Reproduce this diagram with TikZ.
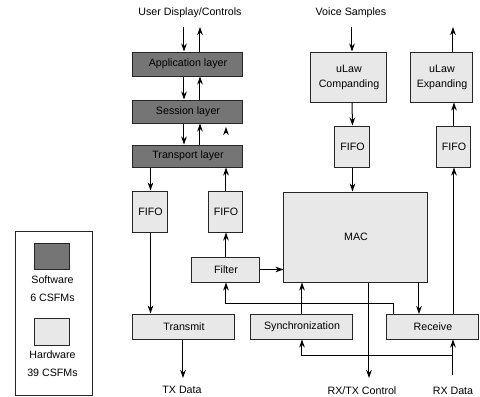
\documentclass[tikz,border=0pt]{standalone}
\usepackage{fontspec}
\setmainfont{Liberation Sans}
\usetikzlibrary{arrows.meta}

\tikzset{every picture/.style={line width=0.75pt}}
\tikzset{
  arr/.style={-{Stealth[length=6pt,width=4.2pt]}},
  swblock/.style={draw=black!85, fill=black!54, inner sep=0.75pt, font=\fontsize{8}{9.6}\selectfont},
  hwblock/.style={draw=black!85, fill=black!9, inner sep=0.75pt, align=center, font=\fontsize{8}{11.2}\selectfont},
  lbl/.style={inner sep=0.75pt, align=center, font=\fontsize{8}{13.5}\selectfont}
}

\begin{document}
\begin{tikzpicture}[x=0.75pt,y=0.75pt,yscale=-1,xscale=1]
\useasboundingbox (0,0) rectangle (480,397);

% Software layers
\node [swblock, minimum width=82.5pt, minimum height=18pt] (app) at (188,64) {Application layer};
\node [swblock, minimum width=82.5pt, minimum height=17.25pt] (sess) at (188,111.5) {Session layer};
\node [swblock, minimum width=82.5pt, minimum height=16.5pt] (trans) at (188,156) {Transport layer};

% Hardware blocks
\node [hwblock, minimum width=26.25pt, minimum height=30.75pt] (fifoa) at (150.5,211.5) {FIFO};
\node [hwblock, minimum width=25.5pt, minimum height=30.75pt] (fifob) at (226,211.5) {FIFO};
\node [hwblock, minimum width=51pt, minimum height=18.75pt] (filter) at (226,269.5) {Filter};
\node [hwblock, minimum width=108pt, minimum height=67.5pt] (mac) at (356,237) {MAC};
\node [hwblock, minimum width=76.5pt, minimum height=18.75pt] (transmit) at (184,326.5) {Transmit};
\node [hwblock, minimum width=76.5pt, minimum height=18.75pt] (sync) at (302,326.5) {Synchronization};
\node [hwblock, minimum width=69pt, minimum height=18.75pt] (receive) at (433,326.5) {Receive};
\node [hwblock, minimum width=57pt, minimum height=37.5pt] (comp) at (349,77) {uLaw\\Companding};
\node [hwblock, minimum width=46.5pt, minimum height=37.5pt] (expd) at (442,77) {uLaw\\Expanding};
\node [hwblock, minimum width=26.25pt, minimum height=30.75pt] (fifoc) at (352.5,146.5) {FIFO};
\node [hwblock, minimum width=25.5pt, minimum height=30.75pt] (fifod) at (454,146.5) {FIFO};

% Text Node
\node [lbl] (user) at (190,13) {User Display/Controls};
\node [lbl] (voice) at (351,13) {Voice Samples};
\node [lbl] (txd) at (182,390) {TX Data};
\node [lbl] (ctrl) at (362,391) {RX/TX Control};
\node [lbl] (rxd) at (453,391) {RX Data};

% free ends
\coordinate (uin) at (184,27);
\coordinate (uout) at (200,27);
\coordinate (vin) at (352,27);
\coordinate (vout) at (453,27);
\coordinate (txe) at (183,378);
\coordinate (ctle) at (369,378);
\coordinate (rxe) at (453,375);
\coordinate (fb) at (226,303);
\coordinate (rxb) at (453,355);

% Stack arrows
\draw [arr] (uin) -- (uin |- app.north);
\draw [arr] (uout |- app.north) -- (uout);
\draw [arr] (uin |- app.south) -- (uin |- sess.north);
\draw [arr] (uout |- sess.north) -- (uout |- app.south);
\draw [arr] (uin |- sess.south) -- (uin |- trans.north);
\draw [arr] (uout |- trans.north) -- (uout |- sess.south);
\draw [arr] (226,133) -- (226,127);
\draw [arr] (fifoa.north |- trans.south) -- (fifoa.north);
\draw [arr] (fifob.north) -- (fifob.north |- trans.south);

% Transmit path
\draw [arr] (fifoa.south) -- (fifoa.south |- transmit.north);
\draw [arr] (transmit.south -| txe) -- (txe);

% Receive path
\draw [arr] (filter.north) -- (fifob.south);
\draw [arr] (filter.east) -- (filter.east -| mac.west);
\draw [arr] (394,314) |- (fb) -- (filter.south);
\draw [arr] (sync.north) -- (sync.north |- mac.south);
\draw [arr] (419,282) -- (419,314);
\draw [arr] (ctle |- mac.south) -- (ctle);
\draw [arr] (rxe) -- (rxe |- receive.south);
\draw [arr] (rxb) -| (sync.south);
\draw [arr] (fifod.south |- receive.north) -- (fifod.south);
\draw [arr] (fifod.north) -- (fifod.north |- expd.south);
\draw [arr] (vout |- expd.north) -- (vout);

% Voice path
\draw [arr] (vin) -- (vin |- comp.north);
\draw [arr] (vin |- comp.south) -- (fifoc.north);
\draw [arr] (fifoc.south) -- (fifoc.south |- mac.north);

% Legend
\node [draw=black!85, fill=white, minimum width=57.75pt, minimum height=123pt] (legend) at (54.5,313) {};
\node [swblock, minimum width=26.25pt, minimum height=19.5pt] (swkey) at (52.5,256) {};
\node [lbl] (swtxt) at (52.5,289) {Software\\6 CSFMs};
\node [hwblock, minimum width=26.25pt, minimum height=20.25pt] (hwkey) at (52.5,331.5) {};
\node [lbl] (hwtxt) at (52.5,364) {Hardware\\39 CSFMs};

\end{tikzpicture}
\end{document}
